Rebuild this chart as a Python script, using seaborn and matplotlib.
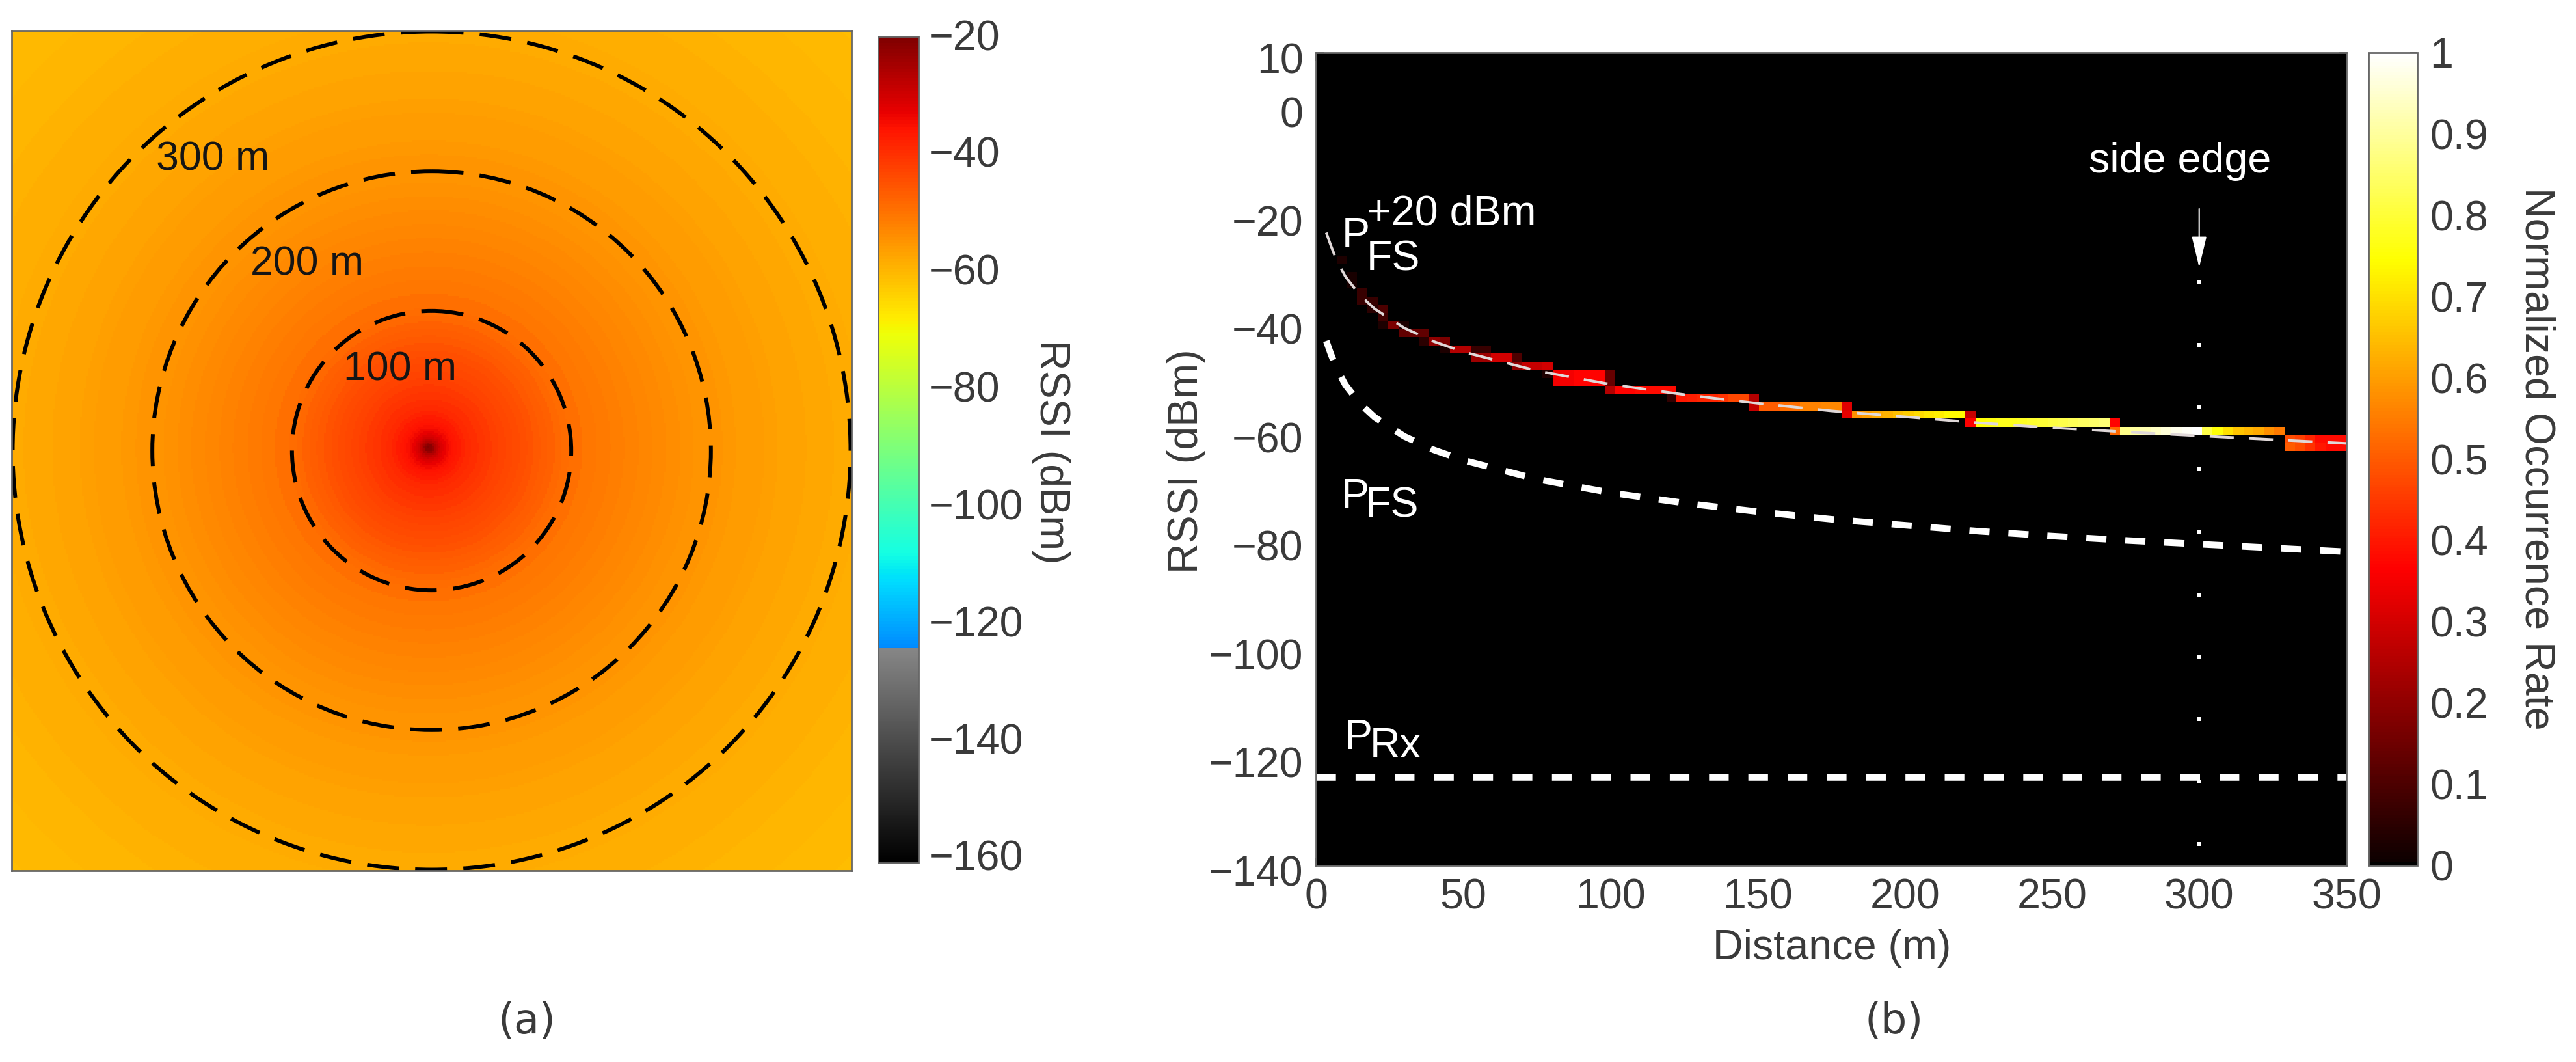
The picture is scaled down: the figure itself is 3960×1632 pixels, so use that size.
import numpy as np
import matplotlib
matplotlib.use('Agg')
import matplotlib.pyplot as plt
from matplotlib.colors import ListedColormap
from matplotlib.patches import Circle
from matplotlib.transforms import ScaledTranslation
import seaborn as sns

W, H = 3960, 1632
DPI = 100

sns.set_theme(style='white')
plt.rcParams['font.family'] = ['Liberation Sans', 'DejaVu Sans']
plt.rcParams['axes.unicode_minus'] = True

# (a) radial RSSI profile
ring_radius = [1, 2, 3, 4, 5, 6, 7, 8, 9, 10, 12, 14, 16, 18, 20, 23, 26, 30, 35, 40, 45, 50, 55, 60, 65, 70, 75, 80,
               85, 90, 95, 100, 110, 120, 130, 140, 150, 160, 170, 180, 190, 200, 210, 220, 230, 240, 250, 260, 270,
               280, 290, 300, 310, 320, 330, 340, 350, 360, 370, 380, 390, 400, 410, 420, 430]
ring_rssi = [-20.5, -21.5, -23, -25, -26.5, -28, -29, -30, -31, -31.8, -33, -34, -34.8, -35.4, -36, -36.8, -37.6,
             -38.6, -39.6, -40.5, -41.3, -42, -42.7, -43.3, -43.9, -44.5, -45, -46, -46.7, -47.3, -47.9, -48.5,
             -49.4, -50.1, -50.8, -51.4, -52, -52.5, -53, -53.5, -54, -54.5, -54.9, -55.3, -55.7, -56, -56.3, -56.7,
             -57, -57.4, -57.7, -58, -58.2, -58.4, -58.6, -58.8, -59, -59.2, -59.4, -59.6, -59.8, -60, -60.2, -60.4,
             -60.6]
circle_radius = [100, 200, 300]
circle_labels = ['100 m', '200 m', '300 m']
rssi_ticks = [-20, -40, -60, -80, -100, -120, -140, -160]

# (b) occurrence bins: row index, first column, values along the row
occ_row = [25, 27, 28, 29, 30, 31, 32, 33, 34, 35, 36, 37, 38, 39, 40, 41, 42, 43, 44, 45, 46, 47, 48]
occ_col = [2, 3, 3, 4, 4, 5, 6, 6, 8, 10, 12, 15, 19, 22, 23, 28, 34, 42, 51, 63, 77, 94, 94]
occ_val = [
    [.03], [.02], [.02], [.07], [.07, .07], [.05, .1], [.08], [.03, .17, .03], [.13, .14, .13], [.05, .2, .17],
    [.03, .25, .25, .07, .07], [.22, .22, .3, .3, .1], [.2, .28, .28, .3],
    [.03, .35, .35, .37, .37, .37, .14], [.35, .35, .37, .37, .37, .14],
    [.25, .37, .37, .38, .38, .38, .38], [.06, .40, .41, .42, .42, .44, .47, .47, .25],
    [.28, .5, .5, .53, .53, .56, .56, .57, .57, .32],
    [.33, .58, .6, .62, .63, .65, .67, .69, .71, .72, .74, .74, .28],
    [.36, .75, .76, .77, .77, .78, .79, .8, .81, .82, .83, .84, .85, .86, .37],
    [.52, .88, .9, .92, .94, .96, .98, .99, 1.0, .82, .75, .7, .66, .64, .62, .58, .55],
    [.48, .46, .42, .38, .38, .38], [.5, .48, .44, .4, .38, .38],
]

curve_dist = [3.5, 5, 7, 10, 15, 20, 30, 40, 50, 75, 100, 125, 150, 175, 200, 225, 250, 275, 300, 325, 350]
pfs = [-43.2, -45.5, -48.3, -51.3, -54.8, -57.3, -60.8, -63.3, -65.2, -68.7, -71.2, -73.1, -74.7, -76.1, -77.2,
       -78.3, -79.2, -80.0, -80.7, -81.4, -82.1]
pfs_20 = [-23.2, -25.5, -28.3, -31.3, -34.8, -37.3, -40.8, -43.3, -45.2, -48.7, -51.2, -53.1, -54.7, -56.1, -57.2,
          -58.3, -59.2, -60.0, -60.7, -61.4, -62.1]
prx_dist = [0, 350]
prx = [-123.7, -123.7]
edge_rssi = [-32.4, -43.9, -55.4, -66.9, -78.4, -90, -101.5, -113, -124.5, -136]
edge_dist = [300] * len(edge_rssi)
dist_ticks = [0, 50, 100, 150, 200, 250, 300, 350]
rssi_b_ticks = [10, 0, -20, -40, -60, -80, -100, -120, -140]
occ_ticks = [0, .1, .2, .3, .4, .5, .6, .7, .8, .9, 1]

TEXT = '#3a3a3a'
EDGE = '#666666'
FS = 46.5


def box(x0, y0, x1, y1):
    """pixel box to figure rect"""
    return [x0 / W, 1 - y1 / H, (x1 - x0) / W, (y1 - y0) / H]


def put(x, y, s, **kw):
    """text at reference pixel position"""
    kw.setdefault('fontsize', FS)
    kw.setdefault('color', TEXT)
    return fig.text(x / W, 1 - y / H, s, **kw)


def shift_labels(labels, offsets):
    for lab, dy in zip(labels, offsets):
        lab.set_transform(lab.get_transform() + ScaledTranslation(0, -dy / DPI, fig.dpi_scale_trans))


def frame(ax):
    for sp in ax.spines.values():
        sp.set_visible(True)
        sp.set_color(EDGE)
        sp.set_linewidth(2)


fig = plt.figure(figsize=(W / DPI, H / DPI), dpi=DPI, facecolor='white')

# colormap of panel (a): grey below the receiver floor, jet above it
f = np.linspace(0, 1, 512)
jet = plt.get_cmap('jet')(f)
jet[f < 0.26, :3] = (f[f < 0.26] / 0.26 * 0.53)[:, None]
rssi_cmap = ListedColormap(jet)

# hot, but starting from pure black
hot = plt.get_cmap('hot')(np.linspace(0, 1, 256))
hot[0, :3] = 0
occ_cmap = ListedColormap(hot)

# panel (a)
ax_a = fig.add_axes(box(18, 47, 1309, 1338))
cax_a = fig.add_axes(box(1350, 56, 1412, 1326))
n = 430
half = 300.7
centres = (np.arange(n) + 0.5) * 2 * half / n - half
xx, yy = np.meshgrid(centres, -centres)
rr = np.hypot(xx + 2, yy - 2)
field = np.array(ring_rssi)[np.searchsorted(ring_radius, rr).clip(0, len(ring_rssi) - 1)]
sns.heatmap(field, ax=ax_a, cmap=rssi_cmap, vmin=-160, vmax=-20, xticklabels=False, yticklabels=False,
            cbar_ax=cax_a)
frame(ax_a)
for r in circle_radius:
    ax_a.add_patch(Circle((n / 2, n / 2), r * n / (2 * half), fill=False, edgecolor='black', lw=4.3,
                          linestyle=(0, (8.2, 4.2))))
for (x, y), s in zip([(528, 568), (385, 406), (240, 245)], circle_labels):
    put(x, y, s, fontsize=45, color='#151515', va='center')

cbar_a = ax_a.collections[0].colorbar
cbar_a.set_ticks(rssi_ticks)
cbar_a.set_ticklabels([f'\u2212{abs(t)}' for t in rssi_ticks])
cax_a.tick_params(right=True, direction='in', length=8, width=1.2, color='#444444', pad=11, labelsize=FS,
                  labelcolor=TEXT)
cbar_a.outline.set_edgecolor(EDGE)
cbar_a.outline.set_linewidth(2)
labs = sorted(cax_a.get_yticklabels(), key=lambda t: -t.get_position()[1])
shift_labels(labs, [-2, -4, -5, -6, -7, -8, -10, -12])
put(1616, 694, 'RSSI (dBm)', rotation=270, ha='center', va='center')
put(810, 1570, '(a)', family='DejaVu Sans', fontsize=46, ha='center', va='center')

# panel (b): 100 x 100 bins over 0..350 m and 10..-140 dBm
ax_b = fig.add_axes(box(2023, 81, 3607, 1330))
cax_b = fig.add_axes(box(3641, 81, 3716, 1330))
occ = np.zeros((100, 100))
for row, col, vals in zip(occ_row, occ_col, occ_val):
    occ[row, col:col + len(vals)] = vals
sns.heatmap(occ, ax=ax_b, cmap=occ_cmap, vmin=0, vmax=1, xticklabels=False, yticklabels=False, cbar_ax=cax_b)
frame(ax_b)


def to_x(d):
    return np.asarray(d, dtype=float) / 3.5


def to_y(v):
    return (10 - np.asarray(v, dtype=float)) / 1.5


sns.lineplot(x=to_x(curve_dist), y=to_y(pfs), ax=ax_b, color='white', lw=7.2, sort=False, errorbar=None,
             linestyle=(0, (3.1, 2.9)))
sns.lineplot(x=to_x(curve_dist), y=to_y(pfs_20), ax=ax_b, color='#e0d8d8', lw=2.9, sort=False, errorbar=None,
             linestyle=(0, (9.2, 5.8)))
sns.lineplot(x=to_x(prx_dist), y=to_y(prx), ax=ax_b, color='white', lw=7.6, sort=False, errorbar=None,
             linestyle=(0, (2.86, 2.86)))
sns.scatterplot(x=to_x(edge_dist), y=to_y(edge_rssi), ax=ax_b, color='white', marker='s', s=16, linewidth=0, zorder=5)
ax_b.annotate('', xy=(to_x(300), to_y(-29.6)), xytext=(to_x(300), to_y(-18.8)),
              arrowprops=dict(arrowstyle='-|>,head_length=0.75,head_width=0.18', color='white', lw=1.5,
                              mutation_scale=40, shrinkA=0, shrinkB=0))
ax_b.set_xlim(0, 100)
ax_b.set_ylim(100, 0)

ax_b.set_xticks(to_x(dist_ticks))
ax_b.set_xticklabels([str(t) for t in dist_ticks])
ax_b.set_yticks(to_y(rssi_b_ticks))
ax_b.set_yticklabels([f'\u2212{abs(t)}' if t < 0 else str(t) for t in rssi_b_ticks])
ax_b.tick_params(axis='both', which='both', direction='in', length=9, width=1.2, color='#444444',
                 top=True, right=True, bottom=True, left=True, labelsize=FS, labelcolor=TEXT, pad=14)
shift_labels(ax_b.get_yticklabels(), [8] * len(rssi_b_ticks))

cbar_b = ax_b.collections[0].colorbar
cbar_b.set_ticks(occ_ticks)
cbar_b.set_ticklabels(['0', '0.1', '0.2', '0.3', '0.4', '0.5', '0.6', '0.7', '0.8', '0.9', '1'])
cax_b.tick_params(right=True, direction='in', length=8, width=1.2, color='#444444', pad=14, labelsize=FS,
                  labelcolor=TEXT)
cbar_b.outline.set_edgecolor(EDGE)
cbar_b.outline.set_linewidth(2)

put(1824, 709, 'RSSI (dBm)', rotation=90, ha='center', va='center')
put(2816, 1457, 'Distance (m)', ha='center', va='center')
put(3900, 705, 'Normalized Occurrence Rate', rotation=270, ha='center', va='center')
put(2912, 1570, '(b)', family='DejaVu Sans', fontsize=46, ha='center', va='center')

put(3351, 248, 'side edge', color='white', ha='center', va='center')
put(2063, 380, 'P', color='white', va='baseline')
put(2101, 345, '+20 dBm', color='white', va='baseline')
put(2101, 415, 'FS', color='white', va='baseline')
put(2062, 781, 'P', color='white', va='baseline')
put(2099, 794, 'FS', color='white', va='baseline')
put(2067, 1151, 'P', color='white', va='baseline')
put(2106, 1164, 'Rx', color='white', va='baseline')

fig.savefig('out.png', dpi=DPI, facecolor='white')
